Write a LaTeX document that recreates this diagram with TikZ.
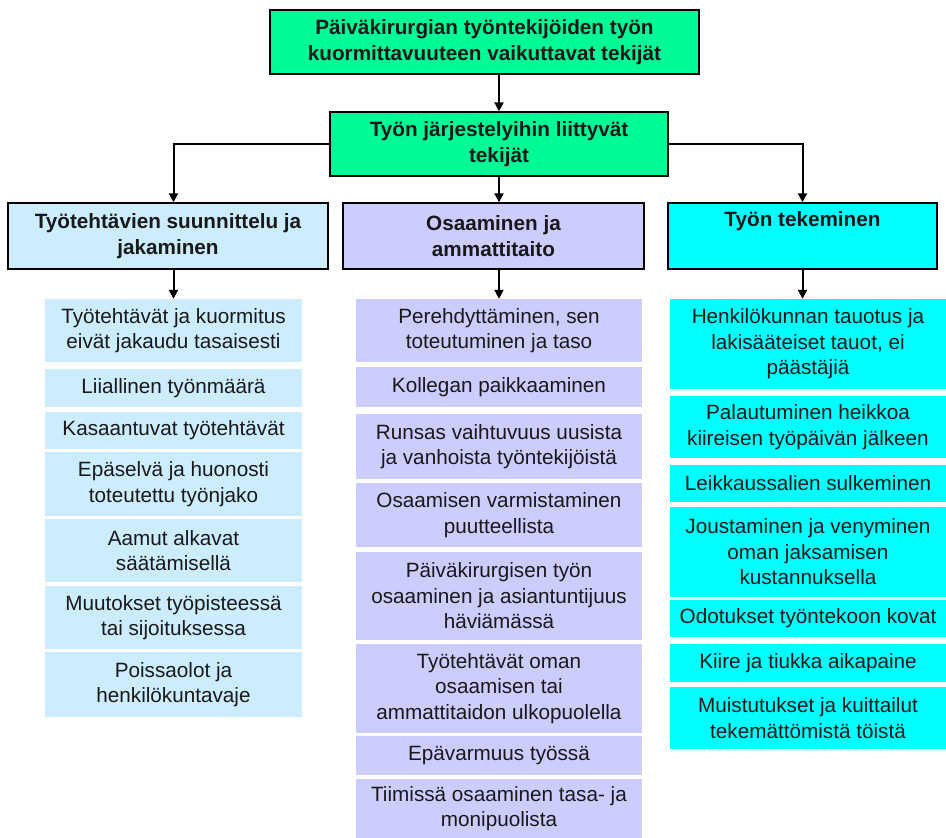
\documentclass[tikz,border=0pt]{standalone}
\usepackage{fontspec}
\setmainfont{Liberation Sans}
\usetikzlibrary{arrows.meta}

\definecolor{headgreen}{RGB}{0,250,150}
\definecolor{planblue}{RGB}{204,236,255}
\definecolor{skilllav}{RGB}{204,204,255}
\definecolor{workcyan}{RGB}{0,255,255}
\definecolor{ink}{RGB}{25,25,25}

\tikzset{
  base/.style={inner sep=0pt, align=center, text=ink,
    font=\fontsize{20.7}{25.5}\selectfont},
  head/.style={base, draw=black, line width=1.4pt,
    font=\bfseries\fontsize{20.7}{26.5}\selectfont},
  arr/.style={line width=2pt, -{Triangle[length=9pt,width=9pt]}},
}

% \cell{name}{style}{x1}{y1}{x2}{y2}{text}: a box spanning the given corners
\newcommand\cell[7]{%
  \pgfmathsetmacro\cellx{(#3+#5)/2}%
  \pgfmathsetmacro\celly{(#4+#6)/2}%
  \pgfmathsetmacro\cellw{#5-#3}%
  \pgfmathsetmacro\cellh{#6-#4}%
  \node[#2, minimum width=\cellw pt, minimum height=\cellh pt] (#1) at (\cellx,\celly) {#7};%
}

\begin{document}
\begin{tikzpicture}[x=1pt,y=-1pt]
\useasboundingbox (0,0) rectangle (946,838);

% headings
\cell{top}{head, fill=headgreen}{270}{10}{699}{74}
  {Päiväkirurgian työntekijöiden työn\\kuormittavuuteen vaikuttavat tekijät}
\cell{mid}{head, fill=headgreen}{330}{112}{668}{176}
  {Työn järjestelyihin liittyvät\\tekijät}
\cell{catL}{head, fill=planblue}{8}{203}{328}{269}
  {Työtehtävien suunnittelu ja\\jakaminen}
\cell{catM}{head, fill=skilllav}{343}{203}{644}{269}
  {Osaaminen ja\\ammattitaito}
\cell{catR}{head, fill=workcyan}{668}{203}{937}{269}
  {Työn tekeminen\\\strut}

% planning and distribution of tasks
\cell{l1}{base, fill=planblue}{45}{299}{302}{362}{Työtehtävät ja kuormitus\\eivät jakaudu tasaisesti}
\cell{l2}{base, fill=planblue}{45}{369}{302}{407}{Liiallinen työnmäärä}
\cell{l3}{base, fill=planblue}{45}{412}{302}{449}{Kasaantuvat työtehtävät}
\cell{l4}{base, fill=planblue}{45}{452}{302}{516}{Epäselvä ja huonosti\\toteutettu työnjako}
\cell{l5}{base, fill=planblue}{45}{519}{302}{582}{Aamut alkavat\\säätämisellä}
\cell{l6}{base, fill=planblue}{45}{586}{302}{649}{Muutokset työpisteessä\\tai sijoituksessa}
\cell{l7}{base, fill=planblue}{45}{652}{302}{717}{Poissaolot ja\\henkilökuntavaje}

% competence and skills
\cell{m1}{base, fill=skilllav}{356}{299}{642}{362}{Perehdyttäminen, sen\\toteutuminen ja taso}
\cell{m2}{base, fill=skilllav}{356}{367}{642}{407}{Kollegan paikkaaminen}
\cell{m3}{base, fill=skilllav}{356}{414}{642}{479}{Runsas vaihtuvuus uusista\\ja vanhoista työntekijöistä}
\cell{m4}{base, fill=skilllav}{356}{483}{642}{547}{Osaamisen varmistaminen\\puutteellista}
\cell{m5}{base, fill=skilllav}{356}{552}{642}{640}{Päiväkirurgisen työn\\osaaminen ja asiantuntijuus\\häviämässä}
\cell{m6}{base, fill=skilllav}{356}{644}{642}{733}{Työtehtävät oman\\osaamisen tai\\ammattitaidon ulkopuolella}
\cell{m7}{base, fill=skilllav}{356}{736}{642}{775}{Epävarmuus työssä}
\cell{m8}{base, fill=skilllav}{356}{779}{642}{838}{Tiimissä osaaminen tasa- ja\\monipuolista}

% doing the work
\cell{r1}{base, fill=workcyan}{670}{299}{946}{389}{Henkilökunnan tauotus ja\\lakisääteiset tauot, ei\\päästäjiä}
\cell{r2}{base, fill=workcyan}{670}{396}{946}{458}{Palautuminen heikkoa\\kiireisen työpäivän jälkeen}
\cell{r3}{base, fill=workcyan}{670}{465}{946}{502}{Leikkaussalien sulkeminen}
\cell{r4}{base, fill=workcyan}{670}{507}{946}{597}{Joustaminen ja venyminen\\oman jaksamisen\\kustannuksella}
\cell{r5}{base, fill=workcyan}{670}{600}{946}{637}{Odotukset työntekoon kovat}
\cell{r6}{base, fill=workcyan}{670}{644}{946}{682}{Kiire ja tiukka aikapaine}
\cell{r7}{base, fill=workcyan}{670}{687}{946}{749}{Muistutukset ja kuittailut\\tekemättömistä töistä}

% connectors
\draw[arr] (top.south -| mid.north) -- (mid.north);
\draw[arr] (mid.west) -| (l1.north |- catL.north);
\draw[arr] (mid.south) -- (mid.south |- catM.north);
\draw[arr] (mid.east) -| (catR.north);
\draw[arr] (l1.north |- catL.south) -- (l1.north);
\draw[arr] (m1.north |- catM.south) -- (m1.north);
\draw[arr] (catR.south) -- (catR.south |- r1.north);
\end{tikzpicture}
\end{document}
